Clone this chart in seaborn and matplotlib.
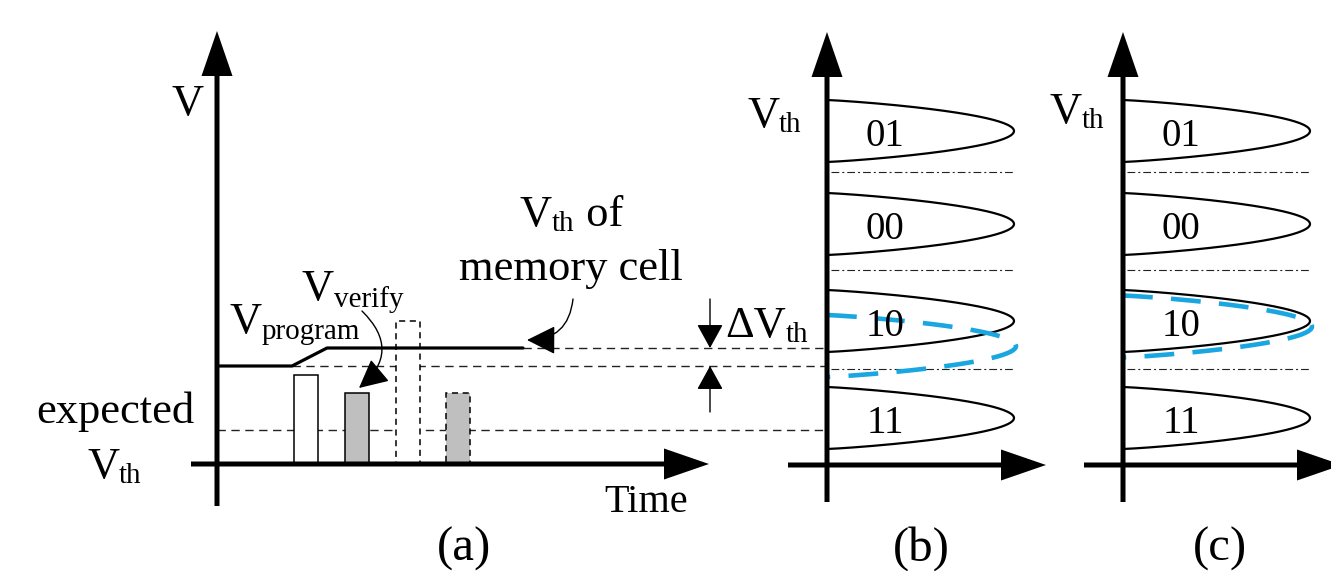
import numpy as np
import matplotlib
matplotlib.use("Agg")
import matplotlib.pyplot as plt
import seaborn as sns
import pandas as pd

sns.set_theme(style="white")
plt.rcParams['font.family'] = ['Liberation Serif', 'DejaVu Serif']
plt.rcParams['text.color'] = 'black'

# ---------------- data (schematic units = picture pixels) ----------------
# panel (a): programming / verify pulses on the time axis
pulse_time = [306, 357, 408, 458]          # pulse centres
pulse_level = [375, 393, 321, 393]         # pulse tops
pulse_kind = ["program", "verify", "program", "verify"]
pulse_future = [False, False, True, True]  # dashed (not yet applied)
time_baseline = 464

# Vth of memory cell during programming
vth_time = [217, 292, 327, 523]
vth_value = [366, 366, 348, 348]
expected_vth = 430

# panels (b)/(c): Vth distributions of a 2-bit cell
state_labels = ["01", "00", "10", "11"]
state_centers = [131, 224, 321, 418]
state_halfspread = 31
state_reach = 187
read_levels = [172, 270, 369]

# shifted distribution of state "10"
shift_center_b = 346
shift_center_c = 326.5

# ---------------- figure ----------------
fig = plt.figure(figsize=(13.31, 5.71), dpi=100)
ax = fig.add_axes([0, 0, 1, 1])
ax.set_xlim(0, 1331)
ax.set_ylim(571, 0)
ax.axis("off")
renderer = fig.canvas.get_renderer()

BLUE = "#1aa6e0"
GRAY = "#bfbfbf"

def axis_arrow(x0, y0, x1, y1):
    ax.arrow(x0, y0, x1 - x0, y1 - y0, width=5, head_width=31, head_length=45,
             length_includes_head=True, fc="black", ec="black", lw=0, zorder=5)

def seg_text(x, y, parts, ha="left"):
    """parts: list of (text, fontsize, baseline offset)"""
    objs = []
    widths = []
    for s, fs, dy in parts:
        t = ax.text(0, y + dy, s, fontsize=fs, ha="left", va="baseline",
                    color="black", zorder=6)
        bb = t.get_window_extent(renderer)
        objs.append(t)
        widths.append(bb.width)
    total = sum(widths)
    cur = x - total / 2 if ha == "center" else x
    for t, w in zip(objs, widths):
        t.set_x(cur)
        cur += w

def dist_shape(u):
    return np.clip(1 - u ** 2, 0, None) ** 0.85

# ---------- panel (a) ----------
axis_arrow(217, 506, 217, 31)
axis_arrow(191, 464, 709, 464)

# pulses
for t, lvl, kind, fut in zip(pulse_time, pulse_level, pulse_kind, pulse_future):
    ax.bar(t, lvl - time_baseline, bottom=time_baseline, width=24,
           color=(GRAY if kind == "verify" else "white"),
           edgecolor="black", linewidth=1.1,
           linestyle=((0, (4, 3)) if fut else "-"), zorder=3)

# Vth trajectory
df = pd.DataFrame({"t": vth_time, "v": vth_value})
sns.lineplot(data=df, x="t", y="v", color="black", linewidth=2.3, ax=ax,
             sort=False, zorder=4)
ax.set_xlim(0, 1331)
ax.set_ylim(571, 0)
ax.axis("off")

dash = (0, (6, 4))
ax.plot([vth_time[-1], 827], [vth_value[-1]] * 2, color="#222222", lw=1.0, ls=dash, zorder=2)
ax.plot([vth_time[1], 827], [vth_value[0]] * 2, color="#222222", lw=1.0, ls=dash, zorder=2)
ax.plot([217, 827], [expected_vth] * 2, color="#222222", lw=1.0, ls=dash, zorder=2)

# Delta Vth arrows
ax.annotate("", xy=(710, vth_value[-1]), xytext=(710, 299),
            arrowprops=dict(arrowstyle="-|>,head_length=1.0,head_width=0.55",
                            mutation_scale=15, color="black", lw=1.0,
                            shrinkA=0, shrinkB=0))
ax.annotate("", xy=(710, vth_value[0]), xytext=(710, 412),
            arrowprops=dict(arrowstyle="-|>,head_length=1.0,head_width=0.55",
                            mutation_scale=15, color="black", lw=1.0,
                            shrinkA=0, shrinkB=0))

# curved arrows
ax.annotate("", xy=(359, 388), xytext=(362, 311),
            arrowprops=dict(arrowstyle="-|>,head_length=0.9,head_width=0.45",
                            mutation_scale=20, color="black", lw=1.0,
                            connectionstyle="arc3,rad=-0.55", shrinkA=0, shrinkB=0))
ax.annotate("", xy=(527, 340), xytext=(573, 299),
            arrowprops=dict(arrowstyle="-|>,head_length=0.9,head_width=0.45",
                            mutation_scale=20, color="black", lw=1.0,
                            connectionstyle="arc3,rad=-0.45", shrinkA=0, shrinkB=0))

# texts (a)
BIG = 32
SUB = 21
seg_text(171, 115, [("V", BIG, 0)])
seg_text(115, 423, [("expected", BIG, 0)], ha="center")
seg_text(87, 478, [("V", BIG, 0), ("th", SUB, 5)])
seg_text(229, 333, [("V", BIG, 0), ("program", SUB, 6)])
seg_text(302, 300, [("V", BIG, 0), ("verify", SUB, 7)])
seg_text(520, 226, [("V", BIG, 0), ("th", SUB, 5), (" of", BIG, 0)])
seg_text(571, 280, [("memory cell", BIG, 0)], ha="center")
seg_text(604, 512, [("Time", 29, 0)])
seg_text(725, 337, [("\u0394V", BIG, 0), ("th", SUB, 5)])
seg_text(464, 561, [("(a)", 35, 0)], ha="center")

# ---------- panels (b) and (c) ----------
for x0, shift_c, vlab, plab, pc in [(827, shift_center_b, (747, 127), "(b)", 921),
                                    (1123, shift_center_c, (1050, 123), "(c)", 1220)]:
    axis_arrow(x0, 502, x0, 32)
    axis_arrow(x0 - 39, 465, x0 + 219, 465)
    yy = np.linspace(-1, 1, 201)
    for lab, c in zip(state_labels, state_centers):
        ax.plot(x0 + state_reach * dist_shape(yy), c + state_halfspread * yy,
                color="black", lw=1.6, zorder=3)
        seg_text(x0 + 58, c + 15, [(lab, 28, 0)], ha="center")
    for r in read_levels:
        ax.plot([x0 + 4, x0 + state_reach], [r, r], color="#222222", lw=0.8,
                ls=(0, (7, 2.7, 1.8, 2.7)), zorder=2)
    ax.plot(x0 + (state_reach + 2) * dist_shape(yy), shift_c + state_halfspread * yy,
            color=BLUE, lw=3.3, ls=(0, (6.5, 4)), zorder=4)
    seg_text(vlab[0], vlab[1], [("V", BIG, 0), ("th", SUB, 5)])
    seg_text(pc, 561, [(plab, 35, 0)], ha="center")

fig.savefig("out.png", dpi=100)
